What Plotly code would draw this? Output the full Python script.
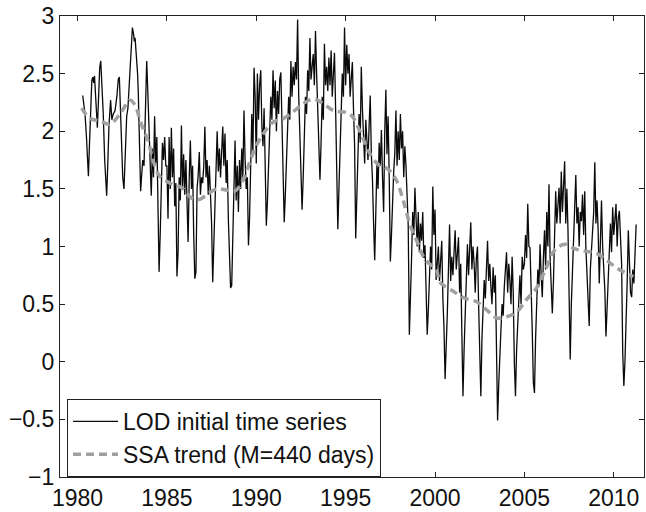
import plotly.graph_objects as go

# ---------------- data ----------------
# LOD initial time series (ms), early sparse part 1980.3-1984
lod_early_years = [1980.29, 1980.36, 1980.42, 1980.5, 1980.56, 1980.61, 1980.66, 1980.74, 1980.8, 1980.85,
                   1980.9, 1980.95, 1981.0, 1981.06, 1981.11, 1981.18, 1981.24, 1981.3, 1981.36, 1981.44,
                   1981.52, 1981.58, 1981.63, 1981.69, 1981.76, 1981.85, 1981.92, 1982.0, 1982.1, 1982.2,
                   1982.28, 1982.34, 1982.4, 1982.47, 1982.53, 1982.6, 1982.67, 1982.75, 1982.82, 1982.9,
                   1982.97, 1983.03, 1983.07, 1983.13, 1983.18, 1983.22, 1983.27, 1983.31, 1983.36, 1983.4,
                   1983.45, 1983.5, 1983.53, 1983.58, 1983.65, 1983.72, 1983.78, 1983.83, 1983.87, 1983.92,
                   1983.96]
lod_early_values = [2.31, 2.22, 2.15, 1.95, 1.72, 1.61, 1.85, 2.30, 2.44, 2.47,
                    2.42, 2.48, 2.35, 2.10, 2.03, 2.30, 2.55, 2.61, 2.45, 2.15,
                    1.75, 1.50, 1.44, 1.70, 2.05, 2.27, 2.10, 2.15, 2.18, 2.30,
                    2.45, 2.47, 2.20, 1.93, 1.60, 1.50, 1.85, 2.13, 2.20, 2.45,
                    2.70, 2.85, 2.90, 2.85, 2.78, 2.81, 2.70, 2.64, 2.50, 2.33,
                    2.00, 1.65, 1.48, 1.60, 1.75, 1.70, 2.20, 2.45, 2.61, 2.40,
                    2.21]

# dense part: 16 samples per year starting 1984.0
lod_dense_first_year = 1984
lod_samples_per_year = 16
lod_dense_rows = [
    [2.21, 1.75, 1.44, 1.85, 1.60, 2.13, 1.72, 1.95, 1.30, 0.78, 1.10, 1.58, 1.90, 1.75, 1.95, 1.70],  # 1984
    [1.70, 1.24, 1.95, 1.50, 2.03, 1.60, 1.85, 1.35, 1.55, 0.74, 0.95, 1.60, 1.40, 2.05, 1.50, 1.80],  # 1985
    [1.45, 1.75, 1.30, 1.04, 1.60, 1.92, 1.50, 1.70, 1.10, 0.72, 0.78, 1.50, 1.62, 1.82, 1.45, 1.60],  # 1986
    [1.55, 1.70, 2.04, 1.60, 1.75, 1.45, 1.70, 1.50, 1.20, 0.69, 1.00, 1.45, 1.70, 2.00, 1.65, 1.85],  # 1987
    [1.60, 1.85, 2.04, 1.70, 1.98, 1.55, 1.75, 1.24, 1.00, 0.64, 0.66, 1.10, 1.50, 1.92, 1.40, 1.70],  # 1988
    [1.30, 1.75, 1.50, 1.85, 1.60, 2.18, 1.75, 1.50, 1.60, 1.01, 1.25, 1.70, 2.15, 1.80, 2.55, 2.30],  # 1989
    [1.72, 2.50, 2.10, 2.40, 2.53, 2.05, 1.87, 2.20, 1.60, 1.18, 1.40, 1.75, 2.01, 2.30, 2.10, 2.53],  # 1990
    [2.20, 2.44, 2.00, 2.35, 2.15, 2.45, 2.51, 2.07, 1.70, 1.21, 1.45, 1.80, 2.01, 2.30, 2.10, 2.61],  # 1991
    [2.30, 2.56, 2.40, 2.60, 2.45, 2.97, 2.30, 2.01, 1.70, 1.32, 1.60, 1.98, 2.30, 2.15, 2.53, 2.35],  # 1992
    [2.81, 2.45, 2.60, 2.67, 2.40, 2.87, 2.50, 2.15, 1.80, 1.58, 1.90, 2.30, 2.10, 2.76, 2.40, 2.56],  # 1993
    [2.35, 2.64, 2.40, 2.70, 2.30, 2.55, 2.68, 2.20, 1.64, 1.15, 1.50, 1.90, 2.21, 2.50, 2.30, 2.90],  # 1994
    [2.40, 2.75, 2.50, 2.67, 2.30, 2.45, 2.60, 2.20, 1.88, 1.07, 1.40, 1.80, 2.15, 1.90, 2.56, 2.20],  # 1995
    [1.95, 1.72, 2.10, 1.92, 1.75, 2.05, 2.31, 1.80, 1.58, 1.20, 0.88, 1.30, 1.72, 1.50, 1.90, 1.70],  # 1996
    [2.01, 1.60, 1.30, 2.00, 2.36, 1.80, 2.13, 1.60, 0.87, 1.10, 1.50, 1.65, 1.81, 2.18, 1.70, 2.00],  # 1997
    [1.75, 2.15, 1.85, 2.00, 1.60, 1.87, 1.70, 1.50, 1.18, 0.235, 0.50, 0.90, 1.30, 1.10, 1.51, 1.20],  # 1998
    [1.00, 1.30, 0.95, 1.20, 1.05, 1.30, 0.90, 1.01, 0.60, 0.235, 0.45, 0.72, 1.00, 0.80, 1.52, 1.10],  # 1999
    [1.32, 0.71, 0.90, 1.00, 0.70, 0.85, 1.05, 0.56, 0.30, -0.15, 0.10, 0.42, 0.80, 1.19, 0.70, 0.91],  # 2000
    [0.75, 1.00, 1.14, 0.80, 0.95, 1.08, 0.60, 0.85, 0.25, -0.30, 0.10, 0.40, 0.71, 1.02, 0.75, 0.95],  # 2001
    [1.21, 0.80, 1.00, 0.85, 0.60, 0.90, 1.00, 0.50, -0.01, -0.30, 0.20, 0.50, 0.71, 0.55, 0.90, 1.05],  # 2002
    [0.70, 0.85, 0.65, 0.50, 0.82, 0.60, 0.75, 0.13, -0.51, -0.20, 0.15, 0.28, 0.50, 0.40, 0.65, 0.80],  # 2003
    [0.95, 0.60, 0.85, 0.71, 0.50, 0.91, 0.60, -0.01, -0.30, 0.10, 0.30, 0.59, 0.75, 0.50, 0.91, 0.80],  # 2004
    [0.85, 1.10, 0.90, 1.37, 1.00, 0.99, 0.70, 0.28, -0.18, -0.27, 0.20, 0.56, 0.80, 0.65, 1.02, 0.75],  # 2005
    [0.56, 0.90, 1.14, 0.80, 1.30, 1.00, 1.54, 0.90, 0.56, 0.42, 0.70, 1.10, 1.48, 1.20, 1.40, 1.51],  # 2006
    [1.20, 1.65, 1.30, 1.50, 1.74, 1.20, 1.50, 1.14, 0.51, 0.02, 0.50, 0.80, 0.99, 1.30, 1.62, 1.20],  # 2007
    [1.34, 1.00, 1.30, 1.22, 1.45, 1.10, 1.48, 0.99, 0.70, 0.50, 0.31, 0.80, 1.00, 1.14, 1.30, 1.73],  # 2008
    [1.20, 1.40, 1.14, 0.68, 1.10, 1.40, 1.00, 0.80, 0.62, 0.22, 0.45, 0.80, 0.99, 1.20, 0.95, 1.34],  # 2009
    [1.10, 1.30, 1.37, 1.00, 1.25, 1.31, 1.10, 0.85, 0.08, -0.21, 0.00, 0.28, 0.70, 1.14, 0.80, 0.60],  # 2010
    [0.56, 0.80, 0.68, 0.95, 1.19],                                                                    # 2011
]

# SSA trend (M=440 days)
trend_years = [1980.23, 1980.7, 1981.26, 1981.8, 1982.38, 1982.94, 1983.2, 1983.6, 1983.96, 1984.24,
               1984.6, 1985.17, 1985.83, 1986.39, 1986.85, 1987.23, 1987.79, 1988.35, 1988.8, 1989.27,
               1989.65, 1990.02, 1990.4, 1990.95, 1991.51, 1992.07, 1992.63, 1993.19, 1993.75, 1994.31,
               1995.24, 1995.8, 1996.27, 1996.83, 1997.38, 1997.85, 1998.22, 1998.6, 1999.06, 1999.43,
               2000.09, 2000.27, 2000.93, 2001.67, 2002.33, 2002.89, 2003.45, 2004.0, 2004.56, 2005.12,
               2005.68, 2006.15, 2006.7, 2007.27, 2007.83, 2008.39, 2009.04, 2009.6, 2010.2, 2010.81,
               2011.1]
trend_values = [2.20, 2.11, 2.09, 2.06, 2.15, 2.27, 2.23, 2.05, 1.91, 1.74,
                1.61, 1.55, 1.51, 1.42, 1.41, 1.45, 1.50, 1.49, 1.48, 1.58,
                1.74, 1.88, 1.98, 2.08, 2.11, 2.17, 2.24, 2.28, 2.24, 2.18,
                2.15, 2.00, 1.83, 1.71, 1.67, 1.57, 1.40, 1.19, 1.02, 0.89,
                0.79, 0.69, 0.62, 0.55, 0.52, 0.45, 0.38, 0.39, 0.43, 0.54,
                0.64, 0.79, 0.97, 1.02, 0.98, 0.96, 0.94, 0.88, 0.81, 0.76,
                0.74]

x_ticks = [1980, 1985, 1990, 1995, 2000, 2005, 2010]
y_ticks = [-1, -0.5, 0, 0.5, 1, 1.5, 2, 2.5, 3]
y_tick_labels = ["\u22121", "\u22120.5", "0", "0.5", "1", "1.5", "2", "2.5", "3"]

# ---------------- assemble series ----------------
lod_years = list(lod_early_years)
lod_values = list(lod_early_values)
for i, row in enumerate(lod_dense_rows):
    for k, v in enumerate(row):
        lod_years.append(lod_dense_first_year + i + k / lod_samples_per_year)
        lod_values.append(v)

FONT = "Liberation Sans, Arial, Helvetica, sans-serif"

fig = go.Figure()
fig.add_trace(go.Scatter(
    x=lod_years, y=lod_values, mode="lines",
    name="LOD initial time series",
    line=dict(color="#0a0a0a", width=1.3),
))
fig.add_trace(go.Scatter(
    x=trend_years, y=trend_values, mode="lines",
    name="SSA trend (M=440 days)",
    line=dict(color="#a0a0a0", width=3.5, dash="8px,5px", shape="spline"),
))

axis_common = dict(
    showgrid=False, zeroline=False,
    showline=True, linecolor="#222222", linewidth=1.2,
    mirror="allticks", ticks="inside", ticklen=5, tickcolor="#222222", tickwidth=1,
    tickfont=dict(family=FONT, size=23, color="#111111"),
)

fig.update_layout(
    width=646, height=512,
    margin=dict(l=60, r=1, t=16, b=30),
    paper_bgcolor="white", plot_bgcolor="white",
    showlegend=True,
    legend=dict(
        x=0.012, y=0.0, xanchor="left", yanchor="bottom",
        bgcolor="white", bordercolor="#222222", borderwidth=1,
        font=dict(family=FONT, size=23, color="#111111"),
        itemwidth=45, tracegroupgap=0,
    ),
    xaxis=dict(range=[1979.02, 2011.69], tickvals=x_ticks, ticktext=[str(t) for t in x_ticks], **axis_common),
    yaxis=dict(range=[-1, 3], tickvals=y_ticks, ticktext=y_tick_labels, **axis_common),
)

fig.write_html("out.html")
